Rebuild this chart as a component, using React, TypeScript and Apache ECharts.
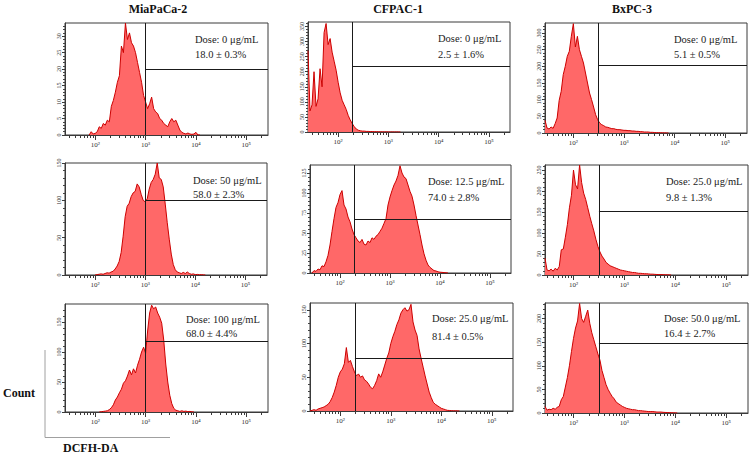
import React, { useEffect, useRef } from "react";
import * as echarts from "echarts";

// ---------- DATA ----------
const cellLines = ["MiaPaCa-2", "CFPAC-1", "BxPC-3"];
const doseLabels = [
  ["Dose: 0 μg/mL", "Dose: 50 μg/mL", "Dose: 100 μg/mL"],
  ["Dose: 0 μg/mL", "Dose: 12.5 μg/mL", "Dose: 25.0 μg/mL"],
  ["Dose: 0 μg/mL", "Dose: 25.0 μg/mL", "Dose: 50.0 μg/mL"],
];
const positiveLabels = [
  ["18.0 ± 0.3%", "58.0 ± 2.3%", "68.0 ± 4.4%"],
  ["2.5 ± 1.6%", "74.0 ± 2.8%", "81.4 ± 0.5%"],
  ["5.1 ± 0.5%", "9.8 ± 1.3%", "16.4 ± 2.7%"],
];
const xTitle = "DCFH-DA";
const yTitle = "Count";

// histogram bin width (log10 units) and first bin of each histogram
const binStep = 0.04;
const miaStart = [1.88, 2.0, 2.08];
const cfStart = [1.4, 1.44, 1.4];
const bxStart = [1.44, 1.44, 1.44];

// counts per bin
const mia0 = [0, 1, 0.3, 0.5, 1, 2.5, 2, 3.5, 3, 4.5, 4, 8.7, 10.5, 13, 16, 18, 27, 25, 34, 29, 31, 28, 27, 25, 22, 19, 16, 12, 10, 8, 9.5, 11.5, 8, 7, 6.5, 5, 4.5, 3.5, 3, 2.5, 4, 5, 4, 4.5, 3, 1.5, 0.8, 0.5, 0.3, 0.6, 0.3, 0.2, 0.3, 0.8, 0, 0];
const mia50 = [0, 0.5, 1, 1.5, 1, 2, 3, 2.5, 4, 5, 8, 12, 18, 30, 52, 78, 92, 96, 105, 110, 112, 122, 118, 108, 100, 98, 102, 115, 124, 128, 135, 150, 130, 128, 118, 95, 70, 48, 28, 14, 7, 4, 3, 2, 3.5, 2, 4, 2, 1, 1.5, 0.5, 0.8, 0.3, 0.5, 0.2, 0];
const mia100 = [0, 0.5, 1, 1.5, 2, 4, 7, 12, 20, 25, 32, 38, 48, 52, 60, 70, 62, 72, 65, 78, 88, 100, 108, 98, 135, 165, 178, 172, 175, 165, 158, 148, 120, 80, 50, 28, 14, 6, 3, 2, 1, 2, 1, 1.5, 0.5, 1, 0.3, 0];
const cf0 = [270, 70, 90, 200, 85, 110, 210, 150, 330, 360, 290, 310, 265, 235, 205, 165, 130, 105, 90, 75, 55, 40, 28, 18, 10, 6, 4, 3, 3, 2, 2, 1.5, 1.5, 1, 1, 0.8, 0.6, 0.5, 0.4, 0.5, 0.3, 0.3, 0.4, 0.2, 0.3, 0.2, 0];
const cf12 = [0, 3, 2, 5, 4, 9, 8, 14, 22, 35, 52, 68, 82, 88, 98, 103, 85, 80, 70, 64, 55, 48, 44, 40, 38, 42, 36, 35, 40, 38, 44, 42, 46, 48, 52, 56, 62, 68, 85, 95, 103, 110, 115, 122, 134, 125, 120, 118, 110, 102, 96, 85, 72, 60, 48, 35, 24, 16, 10, 7, 5, 3, 2.5, 1.5, 1, 0.8, 0.5, 0.3, 0];
const cf25 = [0, 1, 2, 1, 3, 4, 5, 6, 8, 10, 14, 20, 28, 38, 50, 58, 62, 70, 94, 72, 75, 66, 58, 52, 55, 50, 52, 46, 44, 40, 35, 33, 38, 45, 55, 50, 58, 68, 78, 86, 100, 110, 118, 128, 135, 145, 150, 153, 148, 150, 158, 132, 120, 112, 92, 78, 65, 52, 40, 28, 20, 13, 10, 8, 6, 4, 3, 2, 1, 0.8, 0.5, 0.3, 0.3, 0.2, 0];
const bx0 = [38, 15, 12, 18, 14, 28, 45, 98, 125, 175, 200, 230, 245, 290, 328, 258, 290, 250, 230, 210, 180, 150, 120, 100, 78, 55, 40, 30, 25, 22, 18, 17, 15, 13, 13, 11, 10, 10, 9, 8, 8, 7, 7, 6, 6, 5, 5, 4, 4, 3, 3, 3, 2, 2, 1.5, 1, 1, 0.8, 0.5, 0.4, 0.3, 0];
const bx25 = [40, 12, 10, 14, 9, 16, 12, 20, 60, 62, 90, 120, 160, 190, 250, 215, 205, 262, 220, 195, 180, 160, 140, 122, 105, 85, 68, 55, 45, 38, 30, 26, 22, 20, 18, 16, 14, 12, 11, 10, 9, 8, 7, 6, 6, 5, 4, 4, 3.5, 3, 3, 2.5, 2, 2, 1.5, 1.2, 1, 1, 0.8, 0.6, 0.5, 0.3, 0];
const bx50 = [14, 6, 8, 7, 10, 8, 12, 14, 28, 35, 55, 75, 100, 130, 158, 180, 195, 232, 200, 192, 205, 218, 190, 170, 155, 140, 125, 112, 90, 75, 60, 50, 42, 35, 30, 23, 20, 17, 14, 12, 10, 9, 8, 7, 7, 6, 5, 5, 4.5, 4, 3.5, 3, 3, 3, 2.5, 2, 2, 2, 1.5, 1.2, 1, 0.8, 0.6, 0.4, 0.3, 0];

// gates: marker position (log10) and count level of the horizontal marker
const gateX = [3.0, 2.29, 2.5];
const gateYMia = [20, 100, 118];
const gateYCf = [217, 67, 78];
const gateYBx = [204, 151, 148];

// y-axis extents and tick intervals
const yMaxMia = [34, 150, 180];
const yMaxCf = [365, 135, 160];
const yMaxBx = [330, 262, 233];
const yStepMia = [5, 50, 50];
const yStepCf = [50, 25, 50];
const yStepBx = [50, 50, 50];

// x axis (log10 of fluorescence)
const xMinByCol = [1.4, 1.4, 1.44];
const xMaxByCol = [5.43, 5.42, 5.43];
const majorDecades = [2, 3, 4, 5];

// ---------- LAYOUT ----------
const gridBoxes = [
  [[65, 23, 203, 112], [308, 22, 202, 110], [545, 23, 202, 110]],
  [[65, 163, 202, 112], [310, 165, 201, 108], [545, 165, 203, 110]],
  [[65, 304, 203, 108], [310, 303, 203, 108], [545, 303, 203, 110]],
];
const textPos = [
  [[195, 39, 54], [438, 38, 54], [674, 39, 54]],
  [[193, 180, 194], [428, 181, 197], [666, 181, 197]],
  [[186, 319, 333], [432, 318, 336], [664, 318, 333]],
];
const headerX = [158, 398, 632];

const SERIF = "Liberation Serif";
const SUP: Record<number, string> = { 2: "²", 3: "³", 4: "⁴", 5: "⁵" };

export default function App() {
  const ref = useRef<HTMLDivElement>(null);

  useEffect(() => {
    if (!ref.current) return;
    const chart = echarts.init(ref.current, undefined, { renderer: "svg" });

    const hist = [
      [mia0, mia50, mia100],
      [cf0, cf12, cf25],
      [bx0, bx25, bx50],
    ];
    const starts = [miaStart, cfStart, bxStart];
    const gateY = [gateYMia, gateYCf, gateYBx];
    const yMax = [yMaxMia, yMaxCf, yMaxBx];
    const yStep = [yStepMia, yStepCf, yStepBx];

    const grids: any[] = [];
    const xAxes: any[] = [];
    const yAxes: any[] = [];
    const series: any[] = [];
    const graphics: any[] = [];

    let idx = 0;
    for (let row = 0; row < 3; row++) {
      for (let col = 0; col < 3; col++) {
        const [l, t, w, h] = gridBoxes[row][col];
        const xmin = xMinByCol[col];
        const xmax = xMaxByCol[col];
        const ymax = yMax[col][row];
        const ystep = yStep[col][row];
        grids.push({
          left: l, top: t, width: w, height: h,
          show: true, borderColor: "#3a3a3a", borderWidth: 1,
          backgroundColor: "transparent", containLabel: false,
        });
        const minors: number[] = [];
        for (let n = 1; n <= 5; n++) {
          for (let k = 2; k <= 9; k++) {
            const v = Math.log10(k * Math.pow(10, n));
            if (v > xmin && v < xmax) minors.push(v);
          }
        }
        xAxes.push({
          gridIndex: idx, type: "value", min: xmin, max: xmax, position: "bottom",
          axisLine: { show: true, lineStyle: { color: "#3a3a3a", width: 1 } },
          splitLine: { show: false },
          axisTick: { show: true, customValues: minors, length: 3, lineStyle: { color: "#3a3a3a", width: 1 } },
          axisLabel: { show: false },
        });
        xAxes.push({
          gridIndex: idx, type: "value", min: xmin, max: xmax, position: "bottom",
          axisLine: { show: false },
          splitLine: { show: false },
          axisTick: { show: true, customValues: majorDecades, length: 5, lineStyle: { color: "#3a3a3a", width: 1 } },
          axisLabel: {
            show: true, customValues: majorDecades, margin: 6, fontSize: 7,
            color: "#333", fontFamily: SERIF,
            formatter: (v: number) => "10" + (SUP[Math.round(v)] || ""),
          },
        });
        const yTicks: number[] = [];
        for (let v = 0; v <= ymax + 1e-9; v += ystep) yTicks.push(v);
        yAxes.push({
          gridIndex: idx, type: "value", min: 0, max: ymax, interval: ystep,
          axisLine: { show: true, lineStyle: { color: "#3a3a3a", width: 1 } },
          splitLine: { show: false },
          axisTick: { show: true, customValues: yTicks, length: 3, lineStyle: { color: "#3a3a3a" } },
          minorTick: { show: true, splitNumber: 5, length: 2, lineStyle: { color: "#444" } },
          minorSplitLine: { show: false },
          axisLabel: {
            show: true, customValues: yTicks, rotate: 90, fontSize: 6, margin: 3,
            color: "#333", fontFamily: SERIF,
          },
        });
        const vals = hist[col][row];
        const s0 = starts[col][row];
        const data = vals.map((c, i) => [+(s0 + i * binStep).toFixed(3), c]);
        const gx = gateX[col];
        const gy = gateY[col][row];
        series.push({
          type: "line", xAxisIndex: idx * 2, yAxisIndex: idx, data,
          symbol: "none", showSymbol: false, smooth: false, silent: true,
          lineStyle: { color: "#cc0000", width: 1 },
          areaStyle: { color: "#ff6868", opacity: 1 },
          markLine: {
            silent: true, symbol: ["none", "none"], animation: false,
            label: { show: false },
            lineStyle: { color: "#1a1a1a", width: 1, type: "solid" },
            emphasis: { disabled: true },
            data: [
              [{ coord: [gx, 0] }, { coord: [gx, ymax] }],
              [{ coord: [gx, gy] }, { coord: [xmax, gy] }],
            ],
          },
        });
        const [tx, ty1, ty2] = textPos[row][col];
        graphics.push({
          type: "text", x: tx, y: ty1,
          style: { text: doseLabels[col][row], fontSize: 10.5, fontFamily: SERIF, fill: "#222", align: "left", verticalAlign: "middle" },
        });
        graphics.push({
          type: "text", x: tx, y: ty2,
          style: { text: positiveLabels[col][row], fontSize: 10.5, fontFamily: SERIF, fill: "#222", align: "left", verticalAlign: "middle" },
        });
        idx++;
      }
    }

    cellLines.forEach((name, col) => {
      graphics.push({
        type: "text", x: headerX[col], y: 9,
        style: { text: name, fontSize: 12, fontWeight: "bold", fontFamily: SERIF, fill: "#111", align: "center", verticalAlign: "middle" },
      });
    });
    graphics.push({
      type: "text", x: 3, y: 393,
      style: { text: yTitle, fontSize: 12, fontWeight: "bold", fontFamily: SERIF, fill: "#111", align: "left", verticalAlign: "middle" },
    });
    graphics.push({
      type: "text", x: 63, y: 448,
      style: { text: xTitle, fontSize: 12, fontWeight: "bold", fontFamily: SERIF, fill: "#111", align: "left", verticalAlign: "middle" },
    });
    graphics.push({
      type: "polyline",
      shape: { points: [[45, 350], [45, 437.5], [170, 437.5]] },
      style: { stroke: "#a0a0a0", lineWidth: 1, fill: "none" },
      silent: true,
    });

    chart.setOption({
      animation: false,
      backgroundColor: "#ffffff",
      textStyle: { fontFamily: SERIF },
      grid: grids,
      xAxis: xAxes,
      yAxis: yAxes,
      series,
      graphic: graphics,
    });
    return () => chart.dispose();
  }, []);

  return (
    <div
      ref={ref}
      style={{ position: "absolute", left: 0, top: 0, width: 752, height: 455 }}
    />
  );
}
